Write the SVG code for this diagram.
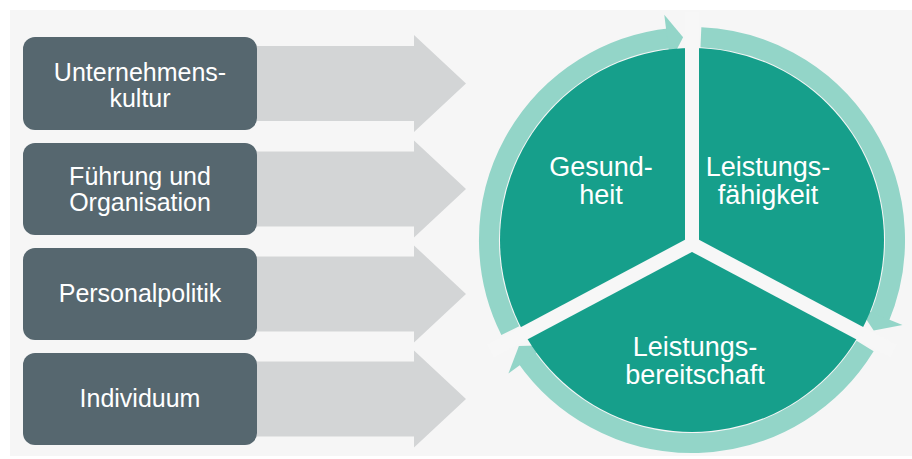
<svg xmlns="http://www.w3.org/2000/svg" width="912" height="459" viewBox="0 0 912 459">
  <defs>
    <style>
      .box { fill: #56676f; }
      .boxtxt { fill: #ffffff; font-family: "Liberation Sans", Arial, sans-serif; font-size: 25px; text-anchor: middle; }
      .arrow { fill: #d3d5d6; }
      .ring { fill: none; stroke: #93d5c8; stroke-width: 20; }
      .head { fill: #93d5c8; }
      .sector { fill: #169f8b; }
      .gap { stroke: #f7f7f7; stroke-width: 14; fill: none; }
      .ctxt { fill: #ffffff; font-family: "Liberation Sans", Arial, sans-serif; font-size: 27px; text-anchor: middle; }
    </style>
  </defs>
  <rect x="0" y="0" width="912" height="459" fill="#ffffff"/>
  <rect x="10" y="10" width="902" height="446" fill="#f6f6f6"/>

  <g id="connectors">
    <path class="arrow" d="M250,46 H414 V35 L466,83.5 L414,132 V121 H250 Z"/>
    <path class="arrow" d="M250,151.5 H414 V140.5 L466,189 L414,237.5 V226.5 H250 Z"/>
    <path class="arrow" d="M250,256.5 H414 V245.5 L466,294 L414,342.5 V331.5 H250 Z"/>
    <path class="arrow" d="M250,361.5 H414 V350.5 L466,399 L414,447.5 V436.5 H250 Z"/>
  </g>

  <g id="unternehmenskultur">
    <rect class="box" x="23" y="37" width="234" height="93" rx="12"/>
    <text class="boxtxt" x="140" y="81">Unternehmens-</text>
    <text class="boxtxt" x="140" y="107">kultur</text>
  </g>
  <g id="fuehrung">
    <rect class="box" x="23" y="143" width="234" height="92" rx="12"/>
    <text class="boxtxt" x="140" y="185">Führung und</text>
    <text class="boxtxt" x="140" y="211">Organisation</text>
  </g>
  <g id="personalpolitik">
    <rect class="box" x="23" y="248" width="234" height="92" rx="12"/>
    <text class="boxtxt" x="140" y="302">Personalpolitik</text>
  </g>
  <g id="individuum">
    <rect class="box" x="23" y="353" width="234" height="92" rx="12"/>
    <text class="boxtxt" x="140" y="407">Individuum</text>
  </g>

  <g id="cycle-ring">
    <path class="ring" d="M510.3,330.6 A203,203 0 0 1 670.8,38.1"/>
    <path class="head" d="M664.3,14.7 L683.1,37.2 L670.2,62.3 Z"/>
    <path class="ring" d="M700.9,37.2 A203,203 0 0 1 878.9,319.3"/>
    <path class="head" d="M902.5,325 L873.7,330.6 L858,307.1 Z"/>
    <path class="ring" d="M865.1,346.1 A203,203 0 0 1 525.7,356.4"/>
    <path class="head" d="M508.4,373.4 L518.9,346.1 L547.2,345.2 Z"/>
  </g>

  <g id="sectors">
    <circle class="sector" cx="692" cy="240" r="192"/>
    <line class="gap" x1="692" y1="244" x2="692" y2="12"/>
    <line class="gap" x1="692" y1="244" x2="893.3" y2="351"/>
    <line class="gap" x1="692" y1="244" x2="490.7" y2="351"/>
    <circle cx="692" cy="244" r="7" fill="#f7f7f7"/>
  </g>

  <g id="gesundheit">
    <text class="ctxt" x="601" y="176">Gesund-</text>
    <text class="ctxt" x="601" y="204">heit</text>
  </g>
  <g id="leistungsfaehigkeit">
    <text class="ctxt" x="768" y="176">Leistungs-</text>
    <text class="ctxt" x="768" y="204">fähigkeit</text>
  </g>
  <g id="leistungsbereitschaft">
    <text class="ctxt" x="695" y="356">Leistungs-</text>
    <text class="ctxt" x="695" y="384">bereitschaft</text>
  </g>
</svg>
